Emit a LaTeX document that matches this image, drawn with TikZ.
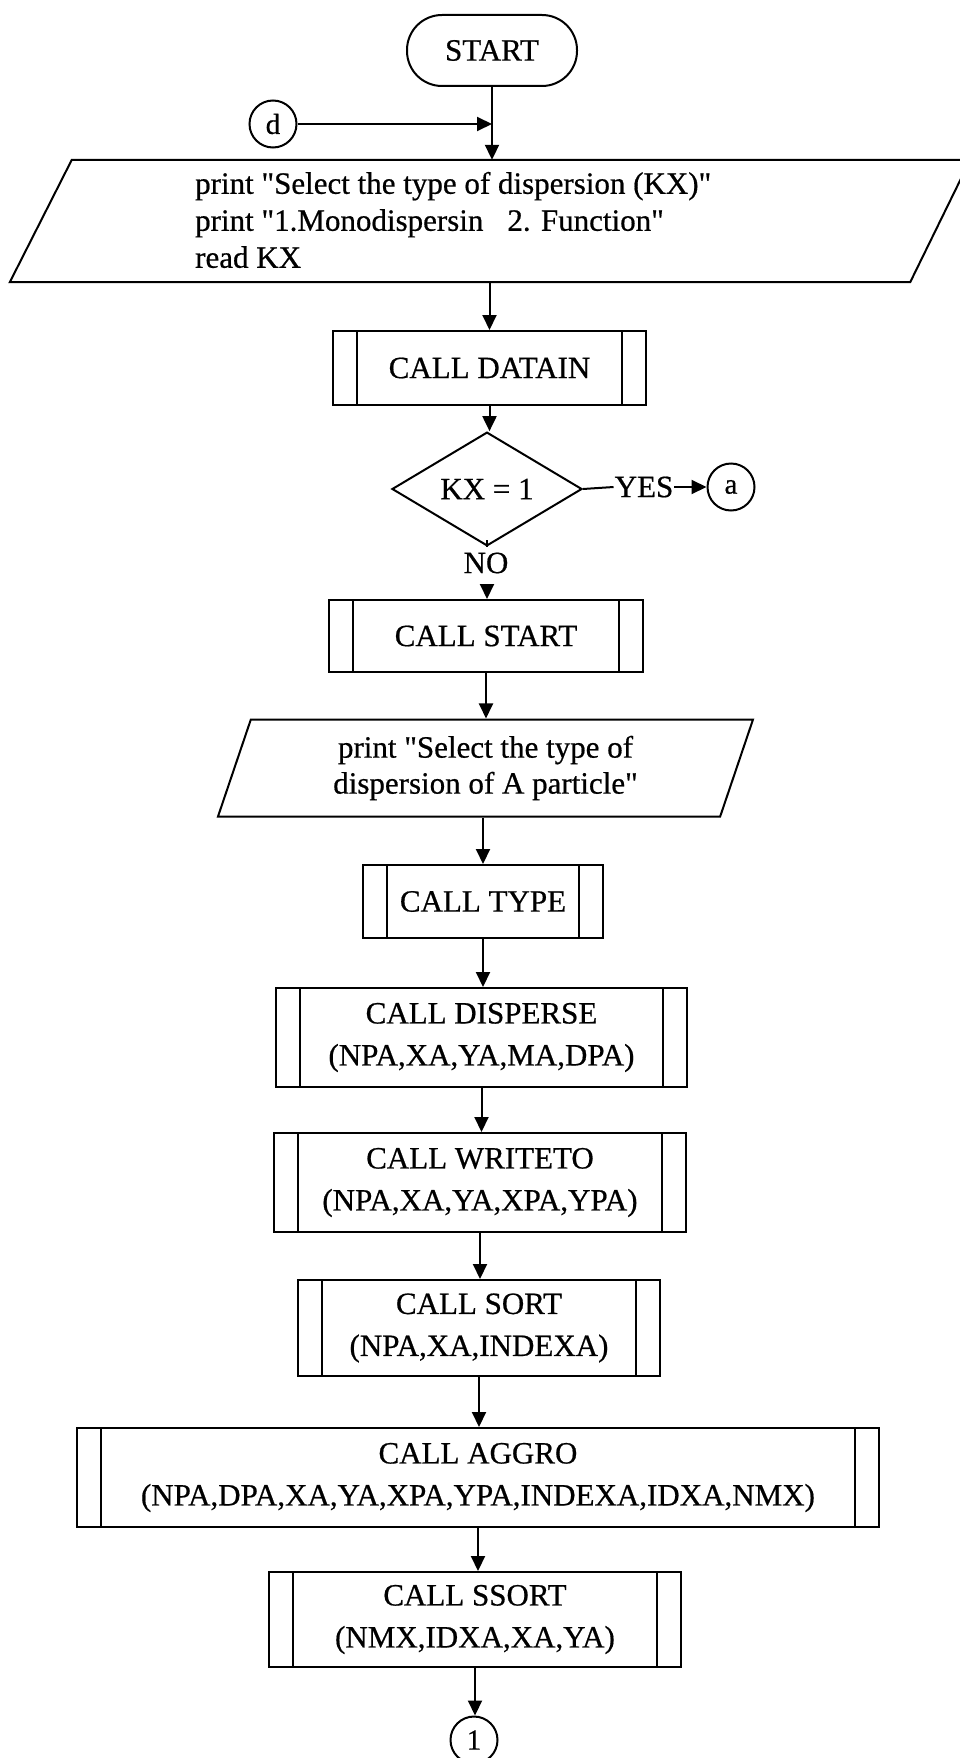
\documentclass[tikz,border=0pt]{standalone}
\usepackage{fontspec}
\newfontfamily\lib[FakeBold=0.6]{Liberation Serif}
\usetikzlibrary{arrows.meta,shapes.geometric}
\begin{document}
\begin{tikzpicture}[x=1pt,y=-1pt,
 base/.style={draw, line width=2pt, font=\lib\fontsize{31}{42}\selectfont, align=center, inner sep=0pt},
 term/.style={base, rounded corners=35pt, minimum width=170pt, minimum height=71pt},
 conn/.style={base, circle, minimum size=47pt, font=\lib\fontsize{29}{30}\selectfont},
 subr/.style={base, rectangle, path picture={\draw[line width=2pt]
   ([xshift=24pt]path picture bounding box.north west) -- ([xshift=24pt]path picture bounding box.south west)
   ([xshift=-24pt]path picture bounding box.north east) -- ([xshift=-24pt]path picture bounding box.south east);}},
 io/.style={base, trapezium, trapezium left angle=63, trapezium right angle=117, trapezium stretches body},
 dec/.style={base, diamond, minimum width=190pt, minimum height=72pt},
 lbl/.style={font=\lib\fontsize{31}{36}\selectfont, inner sep=1pt},
 arr/.style={line width=2pt, -{Triangle[length=15pt,width=14pt]}},
 ln/.style={line width=2pt}
]
\fill[white] (0,0) rectangle (960,1758);
\useasboundingbox (0,0) rectangle (960,1758);

\node[term] (start) at (492,50.5) {START};
\node[conn] (d) at (273,124) {d};
\coordinate (j) at (492,124);
\node[minimum width=960pt, minimum height=122pt, inner sep=0pt] (p1) at (490,221) {};
\draw[ln] ([xshift=62pt]p1.north west) -- (p1.north east) -- ([xshift=-60pt]p1.south east)
  -- (p1.south west) -- cycle;
\node[lbl, anchor=west, align=left, font=\lib\fontsize{31}{37}\selectfont] (p1t) at (194,220)
  {print "Select the type of dispersion (KX)"\\
   print "1.Monodispersin\hspace{24pt}2. Function"\\
   read KX};
\node[subr, minimum width=313pt, minimum height=74pt] (datain) at (489.5,368) {CALL DATAIN};
\node[dec] (kx) at (487,489) {KX = 1};
\node[lbl] (yes) at (644,487) {YES};
\node[conn] (a) at (731,487) {a};
\node[lbl, minimum height=46pt, inner sep=0pt] (no) at (486,563) {NO};
\node[subr, minimum width=314pt, minimum height=72pt] (cstart) at (486,636) {CALL START};
\node[io, minimum width=535pt, minimum height=97pt, font=\lib\fontsize{31}{36}\selectfont] (p2) at (485.5,768)
  {print "Select the type of\\dispersion of A particle"};
\node[subr, minimum width=240pt, minimum height=73pt] (type) at (483,901.5) {CALL TYPE};
\node[subr, minimum width=411pt, minimum height=99pt] (disp) at (481.5,1037.5) {CALL DISPERSE\\(NPA,XA,YA,MA,DPA)};
\node[subr, minimum width=412pt, minimum height=99pt] (wrt) at (480,1182.5) {CALL WRITETO\\(NPA,XA,YA,XPA,YPA)};
\node[subr, minimum width=362pt, minimum height=96pt] (sort) at (479,1328) {CALL SORT\\(NPA,XA,INDEXA)};
\node[subr, minimum width=802pt, minimum height=99pt] (aggro) at (478,1477.5) {CALL AGGRO\\(NPA,DPA,XA,YA,XPA,YPA,INDEXA,IDXA,NMX)};
\node[subr, minimum width=412pt, minimum height=95pt] (ssort) at (475,1619.5) {CALL SSORT\\(NMX,IDXA,XA,YA)};
\node[conn] (one) at (474,1740) {1};

\draw[arr] (start.south) -- (start.south |- p1.north);
\draw[arr] (d.east) -- (d.east -| j);
\draw[arr] (datain.north |- p1.south) -- (datain.north);
\draw[arr] (datain.south) -- (datain.south |- kx.north);
\draw[ln] (kx.east) -- (yes.west);
\draw[arr] (yes.east) -- (a.west);
\draw[ln] (kx.south) -- (kx.south |- no.north);
\draw[arr] (kx.south |- no.south) -- (kx.south |- cstart.north);
\draw[arr] (cstart.south) -- (cstart.south |- p2.north);
\draw[arr] (type.north |- p2.south) -- (type.north);
\draw[arr] (type.south) -- (type.south |- disp.north);
\draw[arr] (disp.south) -- (disp.south |- wrt.north);
\draw[arr] (wrt.south) -- (wrt.south |- sort.north);
\draw[arr] (sort.south) -- (sort.south |- aggro.north);
\draw[arr] (aggro.south) -- (aggro.south |- ssort.north);
\draw[arr] (ssort.south) -- (ssort.south |- one.north);
\end{tikzpicture}
\end{document}
